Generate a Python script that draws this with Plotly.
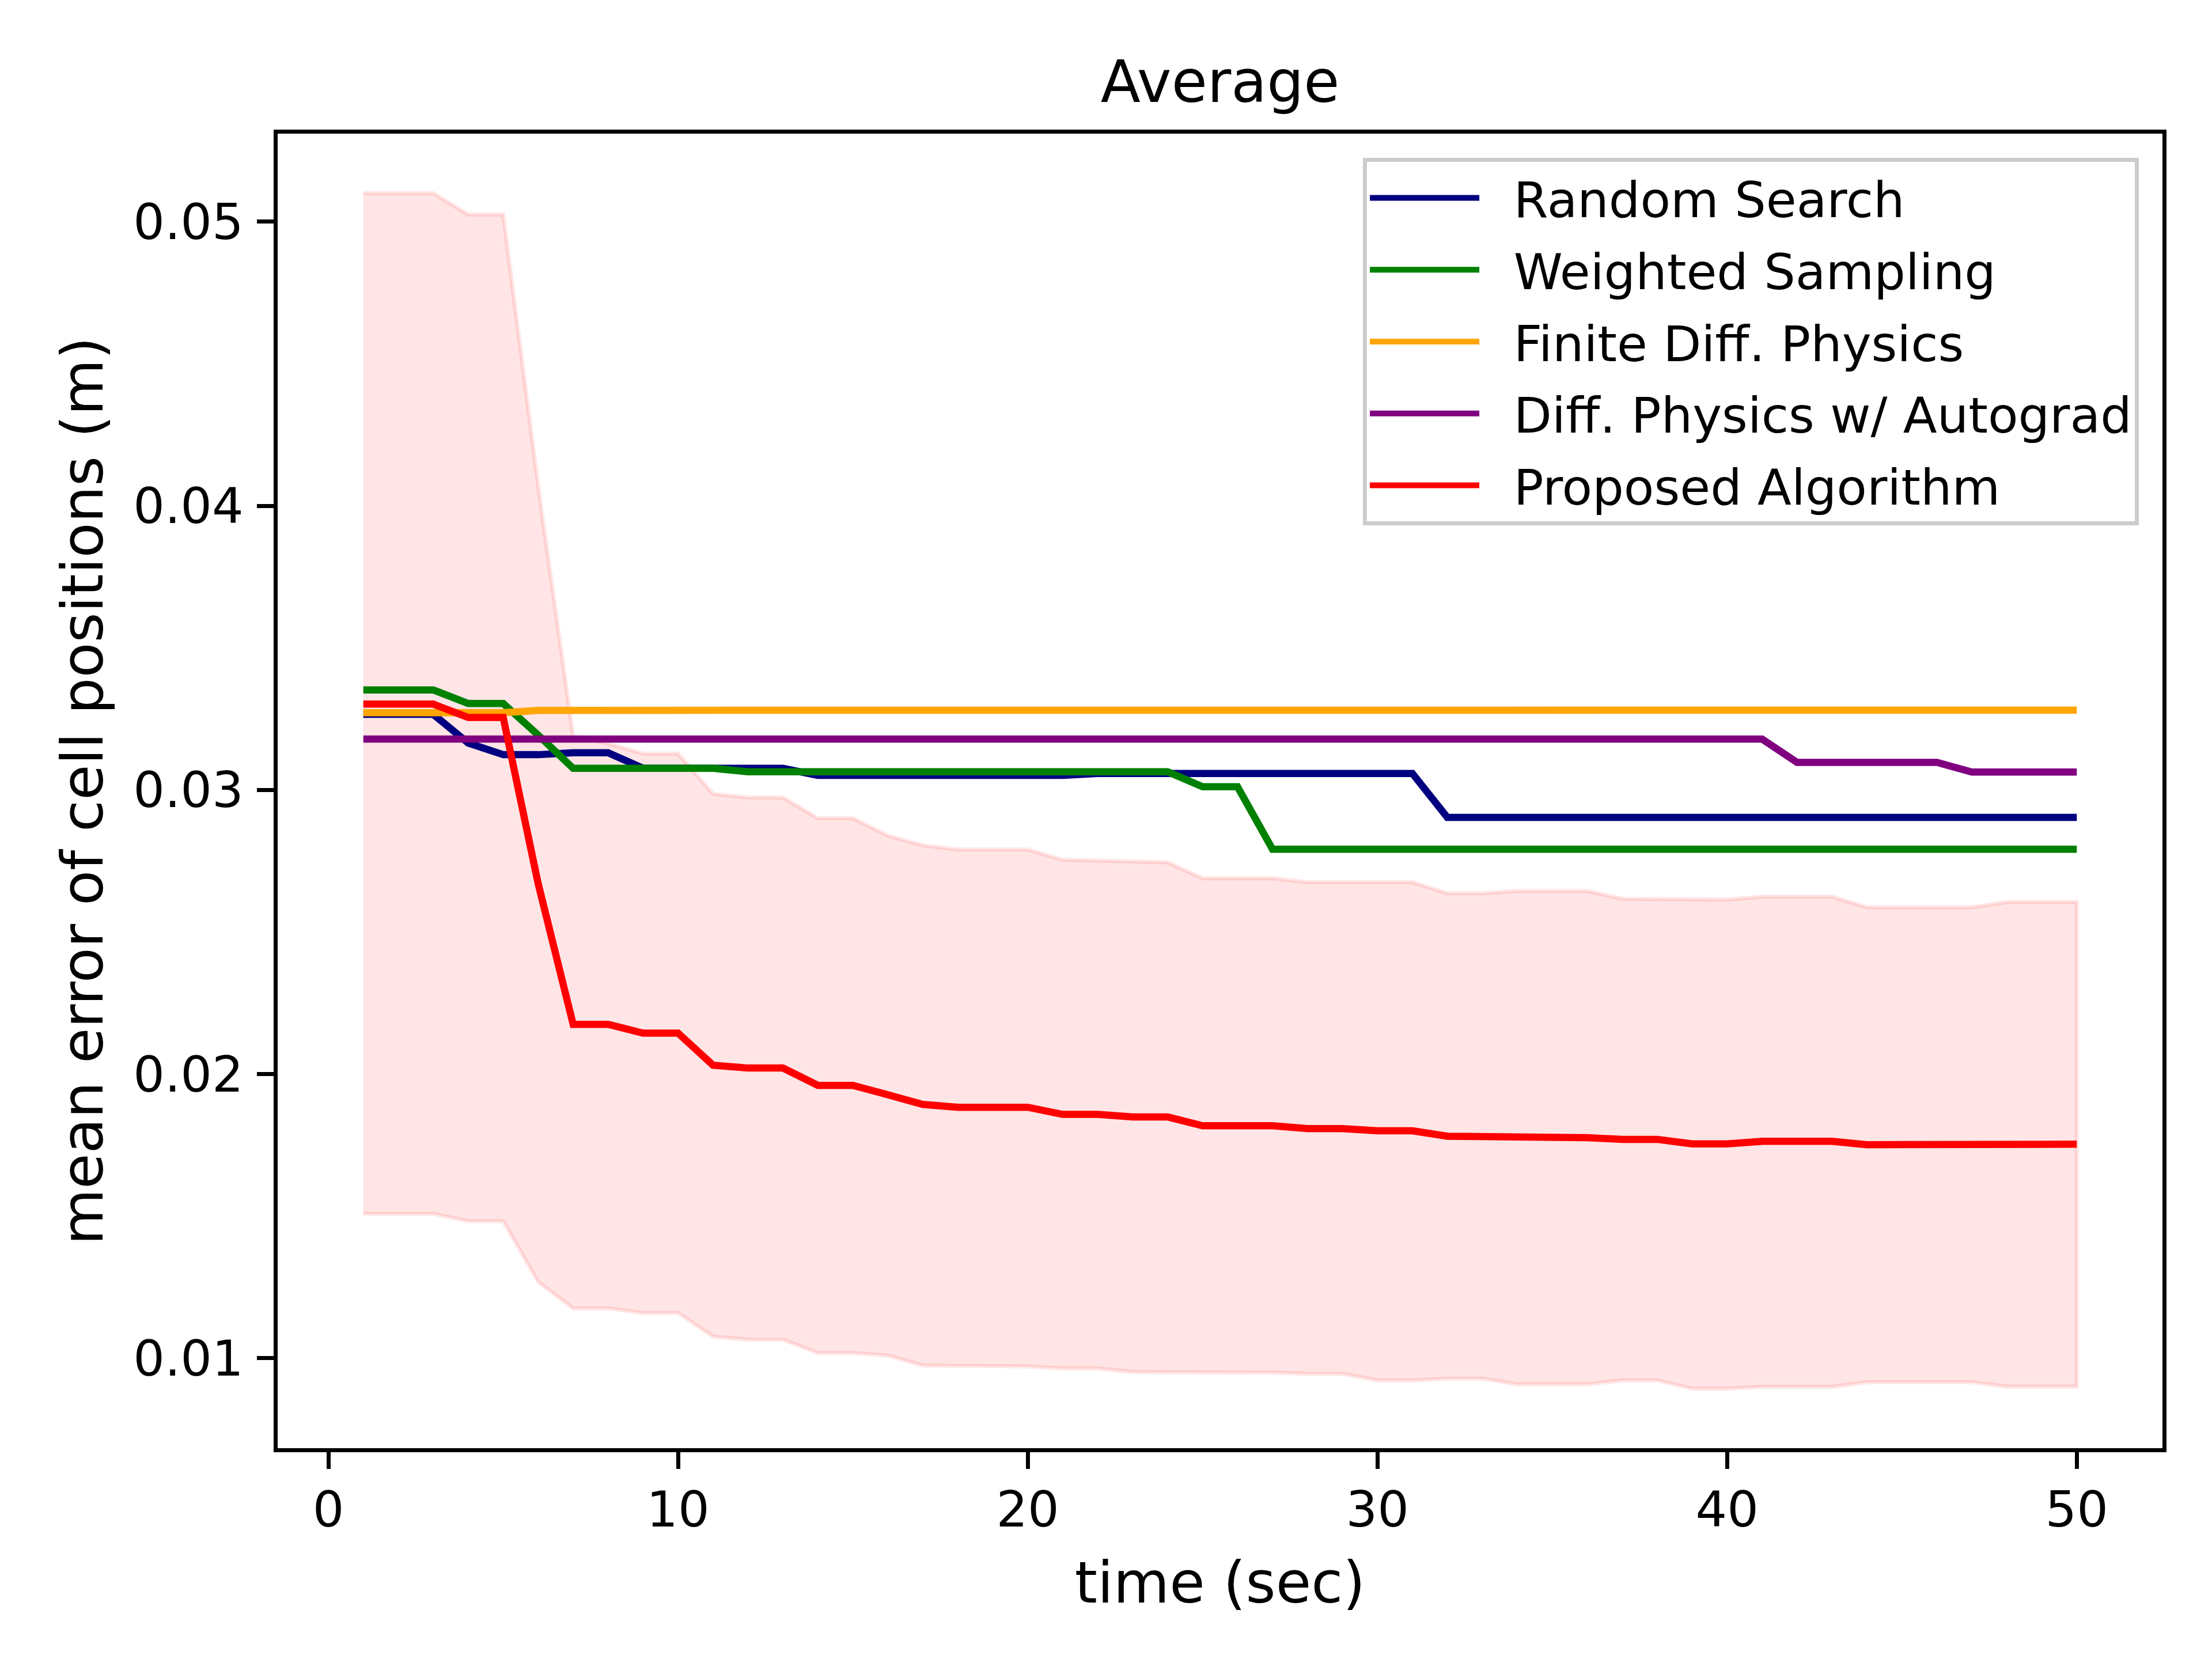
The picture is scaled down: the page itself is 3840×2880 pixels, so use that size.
import plotly.graph_objects as go

# time axis (sec)
time_sec = [1, 2, 3, 4, 5, 6, 7, 8, 9, 10,
            11, 12, 13, 14, 15, 16, 17, 18, 19, 20,
            21, 22, 23, 24, 25, 26, 27, 28, 29, 30,
            31, 32, 33, 34, 35, 36, 37, 38, 39, 40,
            41, 42, 43, 44, 45, 46, 47, 48, 49, 50]

random_search = [0.03266, 0.03266, 0.03266, 0.03165, 0.03124, 0.03124, 0.03131, 0.03131, 0.03076, 0.03076,
                 0.03076, 0.03076, 0.03076, 0.03051, 0.03051, 0.03051, 0.03051, 0.03051, 0.03051, 0.03051,
                 0.03051, 0.03058, 0.03058, 0.03058, 0.03058, 0.03058, 0.03058, 0.03058, 0.03058, 0.03058,
                 0.03058, 0.02903, 0.02903, 0.02903, 0.02903, 0.02903, 0.02903, 0.02903, 0.02903, 0.02903,
                 0.02903, 0.02903, 0.02903, 0.02903, 0.02903, 0.02903, 0.02903, 0.02903, 0.02903, 0.02903]

weighted_sampling = [0.03352, 0.03352, 0.03352, 0.03304, 0.03304, 0.03193, 0.03076, 0.03076, 0.03076, 0.03076,
                     0.03076, 0.03064, 0.03064, 0.03064, 0.03064, 0.03064, 0.03064, 0.03064, 0.03064, 0.03064,
                     0.03064, 0.03064, 0.03064, 0.03064, 0.03011, 0.03011, 0.02791, 0.02791, 0.02791, 0.02791,
                     0.02791, 0.02791, 0.02791, 0.02791, 0.02791, 0.02791, 0.02791, 0.02791, 0.02791, 0.02791,
                     0.02791, 0.02791, 0.02791, 0.02791, 0.02791, 0.02791, 0.02791, 0.02791, 0.02791, 0.02791]

finite_diff = [0.03272, 0.03272, 0.03272, 0.03272, 0.03272, 0.03280, 0.03280, 0.03280, 0.03280, 0.03280,
               0.03280, 0.03280, 0.03276, 0.03276, 0.03276, 0.03276, 0.03276, 0.03276, 0.03276, 0.03276,
               0.03276, 0.03276, 0.03276, 0.03276, 0.03276, 0.03276, 0.03276, 0.03276, 0.03276, 0.03276,
               0.03276, 0.03276, 0.03276, 0.03281, 0.03281, 0.03281, 0.03281, 0.03281, 0.03281, 0.03281,
               0.03281, 0.03281, 0.03281, 0.03281, 0.03281, 0.03281, 0.03281, 0.03281, 0.03281, 0.03281]

diff_autograd = [0.03179, 0.03179, 0.03179, 0.03179, 0.03179, 0.03179, 0.03179, 0.03179, 0.03179, 0.03179,
                 0.03179, 0.03179, 0.03179, 0.03179, 0.03179, 0.03179, 0.03179, 0.03179, 0.03179, 0.03179,
                 0.03179, 0.03179, 0.03179, 0.03179, 0.03179, 0.03179, 0.03179, 0.03179, 0.03179, 0.03179,
                 0.03179, 0.03179, 0.03179, 0.03179, 0.03179, 0.03179, 0.03179, 0.03179, 0.03179, 0.03179,
                 0.03179, 0.03097, 0.03097, 0.03097, 0.03097, 0.03097, 0.03063, 0.03063, 0.03063, 0.03063]

proposed = [0.03302, 0.03302, 0.03302, 0.03255, 0.03255, 0.02670, 0.02175, 0.02175, 0.02144, 0.02144,
            0.02031, 0.02021, 0.02021, 0.01960, 0.01960, 0.01927, 0.01893, 0.01883, 0.01883, 0.01883,
            0.01858, 0.01858, 0.01849, 0.01849, 0.01818, 0.01818, 0.01818, 0.01808, 0.01808, 0.01800,
            0.01800, 0.01781, 0.01781, 0.01776, 0.01776, 0.01776, 0.01770, 0.01770, 0.01754, 0.01754,
            0.01763, 0.01763, 0.01763, 0.01751, 0.01751, 0.01751, 0.01751, 0.01753, 0.01753, 0.01753]

# +/- std band of the proposed algorithm
proposed_upper = [0.05100, 0.05100, 0.05100, 0.05025, 0.05025, 0.04070, 0.03190, 0.03163, 0.03128, 0.03128,
                  0.02986, 0.02973, 0.02973, 0.02900, 0.02900, 0.02839, 0.02805, 0.02790, 0.02790, 0.02790,
                  0.02754, 0.02751, 0.02745, 0.02745, 0.02689, 0.02689, 0.02689, 0.02675, 0.02675, 0.02675,
                  0.02675, 0.02636, 0.02636, 0.02644, 0.02644, 0.02644, 0.02617, 0.02617, 0.02614, 0.02614,
                  0.02624, 0.02624, 0.02624, 0.02587, 0.02587, 0.02587, 0.02587, 0.02605, 0.02605, 0.02605]

proposed_lower = [0.01508, 0.01508, 0.01508, 0.01482, 0.01482, 0.01268, 0.01175, 0.01175, 0.01159, 0.01159,
                  0.01076, 0.01065, 0.01065, 0.01018, 0.01018, 0.01009, 0.00974, 0.00971, 0.00971, 0.00971,
                  0.00964, 0.00964, 0.00951, 0.00949, 0.00949, 0.00949, 0.00949, 0.00945, 0.00945, 0.00922,
                  0.00922, 0.00928, 0.00928, 0.00908, 0.00908, 0.00908, 0.00922, 0.00922, 0.00893, 0.00893,
                  0.00899, 0.00899, 0.00899, 0.00915, 0.00915, 0.00915, 0.00915, 0.00900, 0.00900, 0.00900]

font_family = 'DejaVu Sans'
lw = 12.5  # 1.5pt at 600 dpi

fig = go.Figure()

# Shaded band (drawn as a closed polygon, like fill_between)
fig.add_trace(
    go.Scatter(
        x=time_sec + time_sec[::-1],
        y=proposed_upper + proposed_lower[::-1],
        mode='lines',
        fill='toself',
        fillcolor='rgba(255, 0, 0, 0.1)',
        line=dict(color='rgba(255, 0, 0, 0.1)', width=7),
        showlegend=False,
        hoverinfo='skip',
    )
)

series = [
    ('Random Search', random_search, '#000080'),
    ('Weighted Sampling', weighted_sampling, '#008000'),
    ('Finite Diff. Physics', finite_diff, '#FFA500'),
    ('Diff. Physics w/ Autograd', diff_autograd, '#800080'),
    ('Proposed Algorithm', proposed, '#FF0000'),
]
for name, values, color in series:
    fig.add_trace(
        go.Scatter(
            x=time_sec,
            y=values,
            name='\u00a0\u00a0' + name,  # small gap between handle and label
            legendgroup=name,
            mode='lines',
            line=dict(color=color, width=lw),
        )
    )

# Axes
axis_style = dict(
    showgrid=False,
    zeroline=False,
    showline=True,
    linecolor='black',
    linewidth=7,
    mirror=True,
    ticks='outside',
    ticklen=29,
    tickwidth=7,
    tickcolor='black',
    tickfont=dict(family=font_family, size=86, color='black'),
)
fig.update_xaxes(
    axis_style,
    range=[-1.45, 52.45],
    tickmode='array',
    tickvals=[0, 10, 20, 30, 40, 50],
    ticklabelstandoff=-3,
    title=dict(text='time (sec)', font=dict(family=font_family, size=100, color='black'), standoff=45),
)
fig.update_yaxes(
    axis_style,
    range=[0.00683, 0.0531],
    tickmode='array',
    tickvals=[0.01, 0.02, 0.03, 0.04, 0.05],
    ticktext=['0.01', '0.02', '0.03', '0.04', '0.05'],
    ticklabelstandoff=6,
    title=dict(text='mean error of cell positions (m)', font=dict(family=font_family, size=100, color='black'), standoff=22),
)

fig.update_layout(
    width=3840,
    height=2880,
    margin=dict(l=474, r=94, t=224, b=374, autoexpand=False),
    paper_bgcolor='white',
    plot_bgcolor='white',
    font=dict(family=font_family, color='black'),
    title=dict(
        text='Average',
        x=0.5495, xanchor='center',
        y=1 - 134 / 2880, yanchor='middle',
        font=dict(family=font_family, size=101, color='black'),
    ),
    legend=dict(
        x=0.9875, xanchor='right',
        y=0.9816, yanchor='top',
        font=dict(family=font_family, size=86, color='black'),
        bgcolor='rgba(255, 255, 255, 0.8)',
        bordercolor='#cccccc',
        borderwidth=7,
        itemwidth=190,
        tracegroupgap=10,
    ),
)

fig.write_html("out.html")
